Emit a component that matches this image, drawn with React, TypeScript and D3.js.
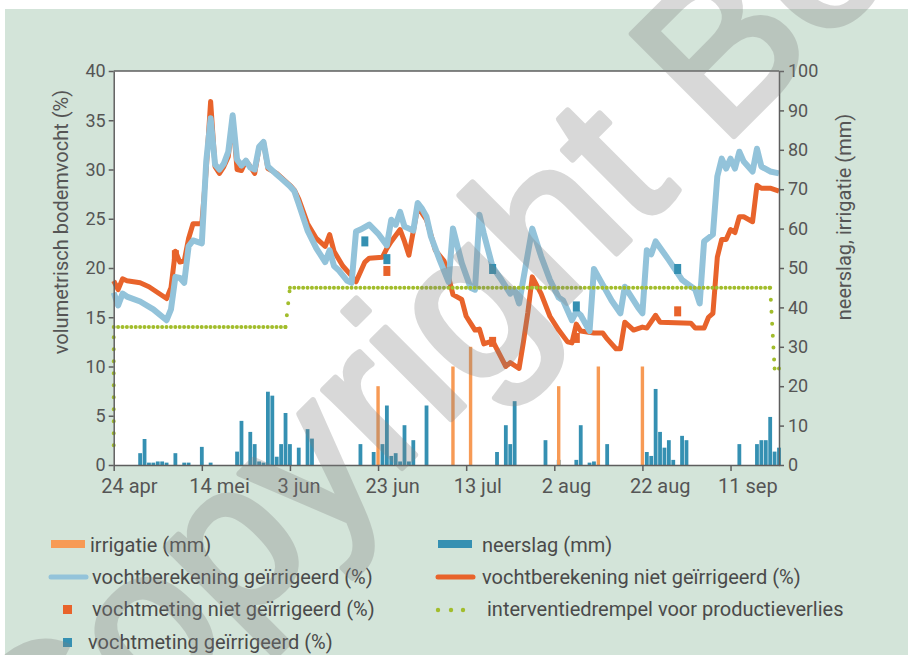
import React, { useEffect, useRef } from "react";
import * as d3 from "d3";

const parseDate = d3.utcParse("%Y-%m-%d");

// x-as: elke 20 dagen een tick
const tickDates = ["2014-04-24", "2014-05-14", "2014-06-03", "2014-06-23", "2014-07-13", "2014-08-02", "2014-08-22", "2014-09-11"];
const tickLabels = ["24 apr", "14 mei", "3 jun", "23 jun", "13 jul", "2 aug", "22 aug", "11 sep"];
const leftTicks = [0, 5, 10, 15, 20, 25, 30, 35, 40];
const rightTicks = [0, 10, 20, 30, 40, 50, 60, 70, 80, 90, 100];

// neerslag (mm), rechter as
const neerslag: [string, number][] = [
  ["2014-04-30", 3.0], ["2014-05-01", 6.6], ["2014-05-02", 0.6], ["2014-05-03", 0.6], ["2014-05-04", 0.9],
  ["2014-05-05", 0.9], ["2014-05-06", 0.6], ["2014-05-08", 3.0], ["2014-05-10", 0.6], ["2014-05-11", 0.6],
  ["2014-05-14", 4.6], ["2014-05-16", 0.6], ["2014-05-22", 3.4], ["2014-05-23", 11.2], ["2014-05-25", 8.4],
  ["2014-05-26", 5.3], ["2014-05-27", 0.9], ["2014-05-28", 0.6], ["2014-05-29", 18.6], ["2014-05-30", 17.6],
  ["2014-05-31", 2.1], ["2014-06-01", 5.3], ["2014-06-02", 13.2], ["2014-06-03", 5.3], ["2014-06-05", 4.4],
  ["2014-06-07", 9.1], ["2014-06-08", 6.7], ["2014-06-19", 5.3], ["2014-06-22", 3.3], ["2014-06-24", 5.3],
  ["2014-06-25", 15.1], ["2014-06-26", 2.3], ["2014-06-27", 3.0], ["2014-06-28", 0.9], ["2014-06-29", 10.1],
  ["2014-06-30", 0.9], ["2014-07-01", 6.3], ["2014-07-04", 15.1], ["2014-07-20", 3.3], ["2014-07-22", 10.1],
  ["2014-07-23", 5.3], ["2014-07-24", 16.2], ["2014-07-31", 6.3], ["2014-08-03", 1.3], ["2014-08-07", 1.3],
  ["2014-08-08", 10.1], ["2014-08-10", 0.6], ["2014-08-11", 0.9], ["2014-08-14", 5.3], ["2014-08-23", 3.3],
  ["2014-08-24", 2.3], ["2014-08-25", 19.3], ["2014-08-26", 8.4], ["2014-08-27", 4.4], ["2014-08-28", 6.3],
  ["2014-08-29", 1.3], ["2014-08-31", 7.4], ["2014-09-01", 6.3], ["2014-09-13", 5.3], ["2014-09-17", 5.3],
  ["2014-09-18", 6.3], ["2014-09-19", 6.3], ["2014-09-20", 12.2], ["2014-09-21", 3.4], ["2014-09-22", 4.4],
];

// irrigatie (mm), rechter as
const irrigatie: [string, number][] = [
  ["2014-06-23", 20], ["2014-07-10", 25], ["2014-07-14", 30], ["2014-08-03", 20], ["2014-08-12", 25], ["2014-08-22", 25],
];

// vochtberekening geïrrigeerd (%)
const vochtGeirrigeerd: [string, number][] = [
  ["2014-04-24", 17.5], ["2014-04-25", 16.2], ["2014-04-26", 17.4], ["2014-04-27", 17.1], ["2014-04-30", 16.6],
  ["2014-05-03", 15.8], ["2014-05-06", 14.7], ["2014-05-07", 15.8], ["2014-05-08", 19.1], ["2014-05-09", 19.0],
  ["2014-05-10", 18.5], ["2014-05-11", 22.2], ["2014-05-12", 22.8], ["2014-05-14", 22.5], ["2014-05-15", 30.8],
  ["2014-05-16", 35.2], ["2014-05-17", 30.5], ["2014-05-18", 30.0], ["2014-05-19", 30.6], ["2014-05-20", 31.8],
  ["2014-05-21", 35.5], ["2014-05-22", 31.0], ["2014-05-23", 30.4], ["2014-05-24", 30.9], ["2014-05-25", 30.2],
  ["2014-05-26", 30.0], ["2014-05-27", 32.3], ["2014-05-28", 32.8], ["2014-05-29", 30.3], ["2014-05-31", 29.5],
  ["2014-06-01", 29.1], ["2014-06-03", 28.3], ["2014-06-04", 27.8], ["2014-06-05", 26.5], ["2014-06-07", 23.8],
  ["2014-06-09", 22.0], ["2014-06-11", 20.6], ["2014-06-12", 21.8], ["2014-06-13", 20.2], ["2014-06-14", 19.8],
  ["2014-06-16", 18.7], ["2014-06-17", 18.5], ["2014-06-18", 23.7], ["2014-06-19", 23.9], ["2014-06-21", 24.4],
  ["2014-06-23", 23.5], ["2014-06-25", 22.3], ["2014-06-26", 24.9], ["2014-06-27", 24.4], ["2014-06-28", 25.7],
  ["2014-06-29", 24.2], ["2014-07-01", 23.8], ["2014-07-02", 26.6], ["2014-07-03", 26.0], ["2014-07-04", 25.2],
  ["2014-07-05", 23.2], ["2014-07-07", 20.8], ["2014-07-09", 18.6], ["2014-07-10", 24.0], ["2014-07-12", 20.5],
  ["2014-07-14", 18.0], ["2014-07-15", 17.8], ["2014-07-16", 25.4], ["2014-07-17", 23.5], ["2014-07-19", 20.1],
  ["2014-07-21", 18.8], ["2014-07-23", 17.4], ["2014-07-24", 17.8], ["2014-07-25", 16.4], ["2014-07-28", 24.0],
  ["2014-07-30", 21.2], ["2014-08-01", 18.8], ["2014-08-03", 17.0], ["2014-08-04", 16.7], ["2014-08-06", 14.7],
  ["2014-08-07", 15.6], ["2014-08-08", 15.2], ["2014-08-10", 13.6], ["2014-08-11", 19.9], ["2014-08-12", 19.1],
  ["2014-08-15", 16.7], ["2014-08-17", 15.4], ["2014-08-18", 18.1], ["2014-08-21", 16.0], ["2014-08-22", 15.4],
  ["2014-08-23", 21.8], ["2014-08-24", 21.4], ["2014-08-25", 22.7], ["2014-08-28", 20.8], ["2014-08-31", 18.8],
  ["2014-09-03", 17.8], ["2014-09-04", 16.4], ["2014-09-05", 22.7], ["2014-09-07", 23.4], ["2014-09-08", 29.3],
  ["2014-09-09", 31.1], ["2014-09-10", 30.1], ["2014-09-11", 31.1], ["2014-09-12", 30.1], ["2014-09-13", 31.8],
  ["2014-09-14", 30.8], ["2014-09-16", 29.8], ["2014-09-17", 32.1], ["2014-09-18", 30.3], ["2014-09-20", 29.8],
  ["2014-09-22", 29.6],
];

// vochtberekening niet geïrrigeerd (%)
const vochtNietGeirrigeerd: [string, number][] = [
  ["2014-04-24", 18.7], ["2014-04-25", 17.8], ["2014-04-26", 18.9], ["2014-04-27", 18.7], ["2014-04-30", 18.5],
  ["2014-05-02", 18.1], ["2014-05-06", 16.9], ["2014-05-07", 18.0], ["2014-05-08", 21.7], ["2014-05-09", 20.6],
  ["2014-05-10", 20.7], ["2014-05-11", 23.0], ["2014-05-12", 24.5], ["2014-05-14", 24.5], ["2014-05-15", 30.0],
  ["2014-05-16", 36.9], ["2014-05-17", 30.3], ["2014-05-18", 29.6], ["2014-05-19", 30.3], ["2014-05-20", 31.3],
  ["2014-05-21", 35.3], ["2014-05-22", 30.0], ["2014-05-23", 29.9], ["2014-05-24", 30.9], ["2014-05-25", 30.3],
  ["2014-05-26", 29.6], ["2014-05-27", 32.2], ["2014-05-28", 32.8], ["2014-05-29", 30.1], ["2014-05-31", 29.6],
  ["2014-06-01", 29.2], ["2014-06-03", 28.4], ["2014-06-04", 27.9], ["2014-06-05", 27.0], ["2014-06-07", 24.5],
  ["2014-06-09", 23.0], ["2014-06-11", 22.2], ["2014-06-12", 23.4], ["2014-06-13", 21.7], ["2014-06-15", 20.2],
  ["2014-06-17", 19.2], ["2014-06-18", 18.6], ["2014-06-20", 20.6], ["2014-06-21", 21.0], ["2014-06-24", 21.1],
  ["2014-06-25", 22.0], ["2014-06-26", 22.7], ["2014-06-28", 23.9], ["2014-06-29", 22.7], ["2014-06-30", 21.3],
  ["2014-07-02", 26.2], ["2014-07-04", 24.9], ["2014-07-06", 21.8], ["2014-07-08", 20.7], ["2014-07-09", 19.1],
  ["2014-07-10", 17.3], ["2014-07-12", 16.8], ["2014-07-13", 15.1], ["2014-07-15", 13.7], ["2014-07-16", 13.8],
  ["2014-07-17", 12.3], ["2014-07-19", 12.6], ["2014-07-22", 10.0], ["2014-07-23", 10.4], ["2014-07-25", 9.8],
  ["2014-07-26", 12.5], ["2014-07-27", 15.5], ["2014-07-28", 19.1], ["2014-07-30", 17.4], ["2014-08-01", 15.1],
  ["2014-08-03", 13.7], ["2014-08-05", 12.5], ["2014-08-06", 12.4], ["2014-08-07", 14.3], ["2014-08-08", 13.6],
  ["2014-08-11", 13.4], ["2014-08-13", 13.4], ["2014-08-14", 12.8], ["2014-08-16", 11.8], ["2014-08-17", 11.8],
  ["2014-08-18", 14.5], ["2014-08-20", 13.7], ["2014-08-22", 14.0], ["2014-08-23", 13.9], ["2014-08-25", 15.2],
  ["2014-08-26", 14.5], ["2014-09-02", 14.4], ["2014-09-03", 13.9], ["2014-09-05", 13.9], ["2014-09-06", 15.0],
  ["2014-09-07", 15.4], ["2014-09-08", 21.1], ["2014-09-09", 22.9], ["2014-09-10", 22.9], ["2014-09-11", 23.9],
  ["2014-09-12", 23.6], ["2014-09-13", 25.2], ["2014-09-14", 25.2], ["2014-09-16", 24.7], ["2014-09-17", 28.4],
  ["2014-09-18", 28.1], ["2014-09-20", 28.1], ["2014-09-22", 27.8],
];

// metingen (%)
const metingGeirrigeerd: [string, number][] = [
  ["2014-06-20", 22.7], ["2014-06-25", 20.9], ["2014-07-19", 19.9], ["2014-08-07", 16.1], ["2014-08-30", 19.9],
];
const metingNietGeirrigeerd: [string, number][] = [
  ["2014-05-08", 21.3], ["2014-06-25", 19.7], ["2014-07-19", 12.5], ["2014-08-07", 12.9], ["2014-08-30", 15.6],
];

// interventiedrempel voor productieverlies (%)
const drempel: [string, number][] = [
  ["2014-04-24", 2], ["2014-04-24", 14], ["2014-06-02", 14], ["2014-06-03", 18],
  ["2014-09-20", 18], ["2014-09-21", 9.8], ["2014-09-22", 9.8],
];

const C = {
  bg: "#d3e4d9",
  axis: "#5e5e5e",
  text: "#555555",
  legendText: "#4a4a4a",
  rain: "#3590b2",
  irrig: "#f79a55",
  blue: "#93c3da",
  orange: "#e8632b",
  green: "#a2bd2c",
};
const FONT = "Roboto, 'Liberation Sans', sans-serif";

export default function App() {
  const leftRef = useRef<SVGGElement>(null);
  const rightRef = useRef<SVGGElement>(null);
  const bottomRef = useRef<SVGGElement>(null);

  const x = d3.scaleUtc()
    .domain([parseDate("2014-04-24")!, parseDate("2014-09-22")!])
    .range([113.7, 779]);
  const yL = d3.scaleLinear().domain([0, 40]).range([465, 71]);
  const yR = d3.scaleLinear().domain([0, 100]).range([465, 71]);

  const line = d3.line<[string, number]>()
    .x(d => x(parseDate(d[0])!))
    .y(d => yL(d[1]));

  // drempel in stukken: steile stukken krijgen wijdere stippen
  const drempelStukken = d3.pairs(drempel).map(([a, b]) => {
    const dx = Math.abs(x(parseDate(b[0])!) - x(parseDate(a[0])!));
    const dy = Math.abs(yL(b[1]) - yL(a[1]));
    return { d: line([a, b]) ?? "", steil: dy > dx };
  });

  useEffect(() => {
    const style = (g: d3.Selection<SVGGElement, unknown, null, undefined>, size: number) => {
      g.select(".domain").attr("stroke", C.axis).attr("stroke-width", 1.5);
      g.selectAll(".tick line").attr("stroke", C.axis).attr("stroke-width", 1.5);
      g.selectAll(".tick text").attr("fill", C.text).attr("font-size", size).attr("font-family", FONT);
    };
    const left = d3.select(leftRef.current!);
    left.call(d3.axisLeft(yL).tickValues(leftTicks).tickSize(5).tickSizeOuter(0).tickPadding(3));
    style(left, 18);
    const right = d3.select(rightRef.current!);
    right.call(d3.axisRight(yR).tickValues(rightTicks).tickSize(5).tickSizeOuter(0).tickPadding(4));
    style(right, 18);
    const bottom = d3.select(bottomRef.current!);
    bottom.call(
      d3.axisBottom(x)
        .tickValues(tickDates.map(d => parseDate(d)!))
        .tickFormat((_, i) => tickLabels[i])
        .tickSize(6)
        .tickSizeOuter(0)
    );
    style(bottom, 20);
    bottom.selectAll(".tick text").attr("text-anchor", "start").attr("dx", -13).attr("y", 28).attr("dy", 0);
  }, []);

  const rainW = 3.8;
  const irrW = 3.4;

  return (
    <svg width={908} height={655} style={{ position: "absolute", left: 0, top: 0 }} fontFamily={FONT}>
      <rect x={0} y={0} width={908} height={655} fill="#ffffff" />
      <rect x={5} y={9} width={903} height={646} fill={C.bg} />
      <rect x={113.7} y={71} width={779 - 113.7} height={394} fill="#ffffff" />

      {/* neerslag */}
      {neerslag.map(([d, v]) => (
        <rect key={"r" + d} x={x(parseDate(d)!) - rainW / 2} y={yR(v)} width={rainW} height={465 - yR(v)} fill={C.rain} />
      ))}
      {/* irrigatie */}
      {irrigatie.map(([d, v]) => (
        <rect key={"i" + d} x={x(parseDate(d)!) - irrW / 2} y={yR(v)} width={irrW} height={465 - yR(v)} fill={C.irrig} />
      ))}

      <path d={line(vochtNietGeirrigeerd) ?? ""} fill="none" stroke={C.orange} strokeWidth={5} strokeLinejoin="round" />
      <path d={line(vochtGeirrigeerd) ?? ""} fill="none" stroke={C.blue} strokeWidth={6} strokeLinejoin="round" />

      {drempelStukken.map((s, i) => (
        <path key={"dr" + i} d={s.d} fill="none" stroke={C.green} strokeWidth={4}
          strokeLinecap="round" strokeDasharray={s.steil ? "0 12" : "0 4.4"} />
      ))}

      {metingNietGeirrigeerd.map(([d, v]) => (
        <rect key={"mn" + d} x={x(parseDate(d)!) - 3.5} y={yL(v) - 5} width={7} height={10} fill={C.orange} />
      ))}
      {metingGeirrigeerd.map(([d, v]) => (
        <rect key={"mg" + d} x={x(parseDate(d)!) - 3.5} y={yL(v) - 5} width={7} height={10} fill={C.rain} />
      ))}

      <line x1={113.7} x2={779} y1={71} y2={71} stroke={C.axis} strokeWidth={1.5} />
      <g ref={leftRef} transform="translate(113.7,0)" />
      <g ref={rightRef} transform="translate(779,0)" />
      <g ref={bottomRef} transform="translate(0,465)" />

      <text transform="translate(68,222) rotate(-90)" textAnchor="middle" fontSize={20} fill={C.text}>
        volumetrisch bodemvocht (%)
      </text>
      <text transform="translate(851,217) rotate(-90)" textAnchor="middle" fontSize={20} fill={C.text}>
        neerslag, irrigatie (mm)
      </text>

      {/* legende */}
      <g fontSize={20} fill={C.legendText}>
        <rect x={51} y={540} width={34} height={8} fill={C.irrig} />
        <text x={90} y={552}>irrigatie (mm)</text>
        <rect x={438} y={540} width={34} height={8} fill={C.rain} />
        <text x={482} y={552}>neerslag (mm)</text>

        <line x1={51} x2={86} y1={577} y2={577} stroke={C.blue} strokeWidth={5} strokeLinecap="round" />
        <text x={92} y={584}>vochtberekening geïrrigeerd (%)</text>
        <line x1={438} x2={473} y1={577} y2={577} stroke={C.orange} strokeWidth={5} strokeLinecap="round" />
        <text x={482} y={584}>vochtberekening niet geïrrigeerd (%)</text>

        <rect x={63} y={605} width={9} height={9} fill={C.orange} />
        <text x={92} y={616}>vochtmeting niet geïrrigeerd (%)</text>
        {[438, 451, 463].map(cx => (
          <circle key={cx} cx={cx} cy={610} r={2.2} fill={C.green} />
        ))}
        <text x={487} y={616}>interventiedrempel voor productieverlies</text>

        <rect x={63} y={638} width={9} height={9} fill={C.rain} />
        <text x={88} y={649}>vochtmeting geïrrigeerd (%)</text>
      </g>

      {/* watermerk */}
      <text transform="translate(45,825) rotate(-45)" fontSize={210} fontFamily="'Liberation Sans', sans-serif"
        fill="#808080" stroke="#808080" strokeWidth={6} strokeLinejoin="round" opacity={0.3}>
        Copyright Bo
      </text>
    </svg>
  );
}
